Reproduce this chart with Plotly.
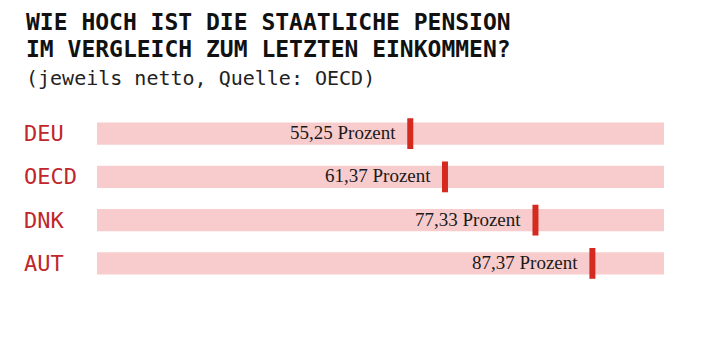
import plotly.graph_objects as go

# Net pension replacement rates (OECD)
countries = ["DEU", "OECD", "DNK", "AUT"]
values = [55.25, 61.37, 77.33, 87.37]
value_labels = ["55,25 Prozent", "61,37 Prozent", "77,33 Prozent", "87,37 Prozent"]
full_scale = [100, 100, 100, 100]

title_lines = ["WIE HOCH IST DIE STAATLICHE PENSION",
               "IM VERGLEICH ZUM LETZTEN EINKOMMEN?"]
subtitle = "(jeweils netto, Quelle: OECD)"

PINK = "#f8cccc"
RED = "#d42a20"
LABEL_RED = "#c0262c"
MONO = "DejaVu Sans Mono"
SERIF = "Liberation Serif"

W, H = 707, 349
ML, MR, MT, MB = 97, 43, 112, 64
plot_w = W - ML - MR
plot_h = H - MT - MB


def px_to_xpaper(px):
    return (px - ML) / plot_w


def py_to_ypaper(py):
    return (H - MB - py) / plot_h


fig = go.Figure()

# full-width background bars
fig.add_trace(go.Bar(
    x=full_scale, y=countries, orientation="h",
    marker=dict(color=PINK, line=dict(width=0)),
    width=0.52, hoverinfo="skip", showlegend=False,
))

# value markers
fig.add_trace(go.Scatter(
    x=values, y=countries, mode="markers",
    marker=dict(symbol="line-ns", size=22, line=dict(width=6, color=RED)),
    hoverinfo="skip", showlegend=False,
))

annotations = []
for c, v, lab in zip(countries, values, value_labels):
    annotations.append(dict(
        x=v, y=c, xref="x", yref="y", text=lab, showarrow=False,
        xanchor="right", yanchor="middle", xshift=-12, yshift=1,
        font=dict(family=SERIF, size=19, color="#1a1a1a"),
    ))
    annotations.append(dict(
        x=px_to_xpaper(22), y=c, xref="paper", yref="y", text=c,
        showarrow=False, xanchor="left", yanchor="middle", yshift=0,
        font=dict(family=MONO, size=22, color=LABEL_RED),
    ))

title_y = [22, 49]
for line, ty in zip(title_lines, title_y):
    annotations.append(dict(
        x=px_to_xpaper(24), y=py_to_ypaper(ty), xref="paper", yref="paper",
        text="<b>" + line + "</b>", showarrow=False,
        xanchor="left", yanchor="middle",
        font=dict(family=MONO, size=23, color="#111111"),
    ))
annotations.append(dict(
    x=px_to_xpaper(24), y=py_to_ypaper(78), xref="paper", yref="paper",
    text=subtitle, showarrow=False, xanchor="left", yanchor="middle",
    font=dict(family=MONO, size=20, color="#222222"),
))

fig.update_layout(
    width=W, height=H,
    margin=dict(l=ML, r=MR, t=MT, b=MB, pad=0),
    paper_bgcolor="white", plot_bgcolor="white",
    barmode="overlay",
    xaxis=dict(range=[0, 100], visible=False, fixedrange=True),
    yaxis=dict(categoryorder="array", categoryarray=countries,
               range=[3.5, -0.5], visible=False, fixedrange=True),
    annotations=annotations,
    showlegend=False,
)

fig.write_html("out.html", config={"displayModeBar": False})
